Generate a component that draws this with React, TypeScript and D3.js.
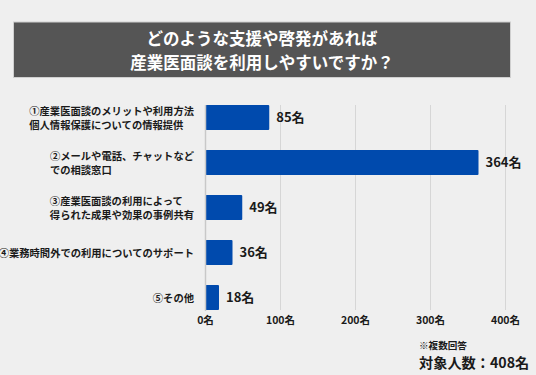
import React, { useEffect, useRef } from "react";
import * as d3 from "d3";

const categories: string[][] = [
  ["①産業医面談のメリットや利用方法", "個人情報保護についての情報提供"],
  ["②メールや電話、チャットなど", "での相談窓口"],
  ["③産業医面談の利用によって", "得られた成果や効果の事例共有"],
  ["④業務時間外での利用についてのサポート"],
  ["⑤その他"],
];
const values: number[] = [85, 364, 49, 36, 18];
const ticks: number[] = [0, 100, 200, 300, 400];
const titleLines = ["どのような支援や啓発があれば", "産業医面談を利用しやすいですか？"];
const note = "※複数回答";
const total = "対象人数：408名";

const W = 536;
const H = 375;
const FONT = "'Noto Sans CJK JP', 'Noto Sans', sans-serif";

export default function App() {
  const ref = useRef<SVGSVGElement>(null);
  useEffect(() => {
    const svg = d3.select(ref.current);
    svg.selectAll("*").remove();
    svg.append("rect").attr("width", W).attr("height", H).attr("fill", "#efefef");

    // title
    svg.append("rect").attr("x", 13.5).attr("y", 22).attr("width", 497).attr("height", 55.5)
      .attr("fill", "#555555").attr("stroke", "#cfcfcf").attr("stroke-width", 1);
    titleLines.forEach((t, i) => {
      svg.append("text").attr("x", 262).attr("y", 39 + i * 24).attr("dy", "0.36em")
        .attr("text-anchor", "middle").attr("fill", "#fff").attr("font-family", FONT)
        .attr("font-weight", 700).attr("font-size", 16.5).text(t);
    });

    const x = d3.scaleLinear().domain([0, 400]).range([205.5, 505.5]);
    const y = d3.scaleBand<number>().domain(d3.range(values.length)).range([95, 320]).paddingInner(0.44).paddingOuter(0.22);

    const g = svg.append("g");
    // grid
    ticks.slice(1).forEach((t) => {
      g.append("line").attr("x1", x(t)).attr("x2", x(t)).attr("y1", 105).attr("y2", 310)
        .attr("stroke", "#d6d6d6").attr("stroke-width", 1);
    });
    // bars
    values.forEach((v, i) => {
      g.append("rect").attr("x", x(0)).attr("y", y(i)!).attr("width", x(v) - x(0)).attr("height", y.bandwidth())
        .attr("fill", "#004aad").attr("rx", 1);
      g.append("text").attr("x", x(v) + 7).attr("y", y(i)! + y.bandwidth() / 2).attr("dy", "0.36em")
        .attr("fill", "#1a1a1a").attr("font-family", FONT).attr("font-weight", 700).attr("font-size", 13).text(v + "名");
    });
    // axis line
    g.append("line").attr("x1", x(0)).attr("x2", x(0)).attr("y1", 105).attr("y2", 311)
      .attr("stroke", "#c8c8c8").attr("stroke-width", 1.5);
    // tick labels
    ticks.forEach((t) => {
      g.append("text").attr("x", x(t)).attr("y", 320.5).attr("dy", "0.36em").attr("text-anchor", "middle")
        .attr("fill", "#1a1a1a").attr("font-family", FONT).attr("font-weight", 700).attr("font-size", 10.5).text(t + "名");
    });
    // category labels
    categories.forEach((lines, i) => {
      const cy = y(i)! + y.bandwidth() / 2 + 0.5;
      const lh = 13.8;
      const texts = lines.map((l, k) =>
        g.append("text").attr("fill", "#1a1a1a").attr("font-family", FONT).attr("font-weight", 700).attr("font-size", 10.3)
          .attr("x", 0).attr("y", cy + (k - (lines.length - 1) / 2) * lh).attr("dy", "0.36em").text(l)
      );
      const w = d3.max(texts, (t) => (t.node() as SVGTextElement).getComputedTextLength()) || 0;
      texts.forEach((t) => t.attr("x", 194 - w));
    });
    // notes
    svg.append("text").attr("x", 419).attr("y", 346).attr("dy", "0.36em").attr("fill", "#1a1a1a")
      .attr("font-family", FONT).attr("font-weight", 700).attr("font-size", 9.6).text(note);
    svg.append("text").attr("x", 419).attr("y", 362.5).attr("dy", "0.36em").attr("fill", "#1a1a1a")
      .attr("font-family", FONT).attr("font-weight", 700).attr("font-size", 14.2).text(total);
  }, []);
  return (
    <div style={{ position: "fixed", left: 0, top: 0 }}>
      <svg ref={ref} width={W} height={H} style={{ display: "block" }} />
    </div>
  );
}
